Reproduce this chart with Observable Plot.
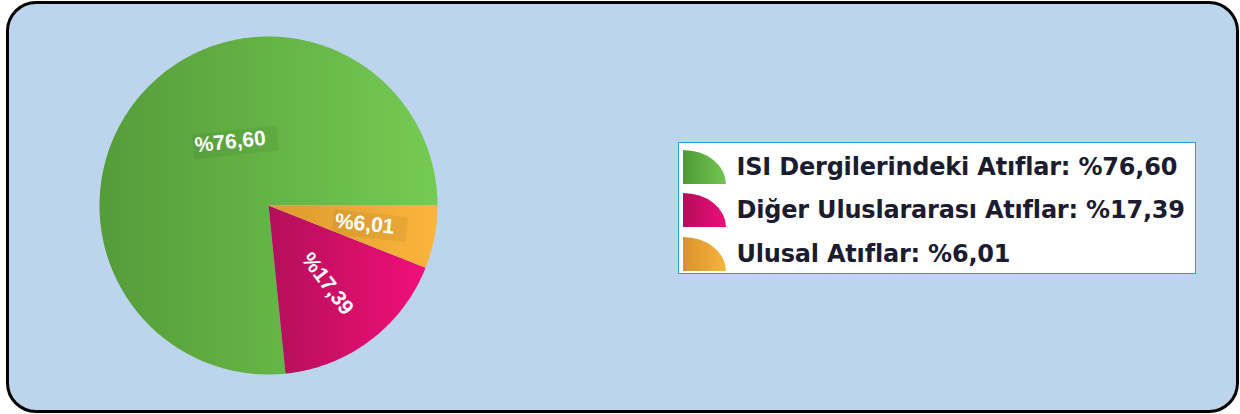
<!DOCTYPE html>
<html><head><meta charset="utf-8">
<script src="https://cdn.jsdelivr.net/npm/d3@7"></script>
<script src="https://cdn.jsdelivr.net/npm/@observablehq/plot@0.6"></script>
<style>
body{margin:0;background:#fff;}
#wrap{position:relative;width:1240px;height:414px;overflow:hidden;}
#panel{position:absolute;left:6px;top:1px;width:1233px;height:412px;box-sizing:border-box;border:3px solid #000;border-radius:30px;background:#bdd5ec;}
#chart{position:absolute;left:0;top:0;}
#legend{position:absolute;left:678px;top:142px;width:518px;height:132px;box-sizing:border-box;border:1.5px solid #2a9fd6;background:#fff;}
.row{position:absolute;left:3.5px;height:34px;display:flex;align-items:center;}
.row svg{display:block;flex:none;}
.row span{font-family:"DejaVu Sans";font-weight:bold;font-size:24px;color:#1c1c30;margin-left:10px;white-space:nowrap;letter-spacing:-0.2px;}
</style>
</head><body>
<div id="wrap"><div id="panel"></div><div id="chart"></div><div id="legend"></div></div>
<script>
// ---- data ----
const categories = ["ISI Dergilerindeki Atıflar", "Diğer Uluslararası Atıflar", "Ulusal Atıflar"];
const values = [76.60, 17.39, 6.01];
const valueLabels = ["%76,60", "%17,39", "%6,01"];

// ---- styles / layout ----
const gradients = [["#559c39", "#74cb52"], ["#b30f5a", "#f20f78"], ["#dc9a2e", "#fcb53d"]];
const swatchGradients = [["#4f9a38", "#72c650"], ["#b50c5a", "#ea107a"], ["#d8922a", "#f8b440"]];
const labelPlace = [{r: 0.44, angle: -31, rotate: -6, plate: true}, {r: 0.58, rotate: 53, plate: false}, {r: 0.58, rotate: 6, plate: true}];
const cx = 268, cy = 205, R = 169;

const arcs = d3.pie().sort(null).startAngle(2.5 * Math.PI).endAngle(0.5 * Math.PI)(values);

const slices = arcs.map((a, i) => {
  const pts = [{x: 0, y: 0}];
  const n = Math.max(8, Math.ceil(Math.abs(a.endAngle - a.startAngle) / (Math.PI / 360)));
  for (let k = 0; k <= n; k++) {
    const t = a.startAngle + (a.endAngle - a.startAngle) * k / n;
    pts.push({x: Math.sin(t), y: -Math.cos(t)});
  }
  pts.push({x: 0, y: 0});
  return pts;
});

const labels = arcs.map((a, i) => {
  const p = labelPlace[i];
  const ang = p.angle !== undefined ? p.angle * Math.PI / 180 : (a.startAngle + a.endAngle) / 2;
  return {x: p.r * Math.sin(ang), y: -p.r * Math.cos(ang), text: valueLabels[i], rotate: p.rotate, plate: p.plate};
});

const chart = Plot.plot({
  width: 1240, height: 414, margin: 0,
  style: {background: "transparent", overflow: "visible"},
  x: {domain: [-1, 1], range: [cx - R, cx + R], axis: null},
  y: {domain: [-1, 1], range: [cy - R, cy + R], axis: null},
  marks: [
    ...slices.map((pts, i) => Plot.line(pts, {x: "x", y: "y", fill: `url(#g${i})`, stroke: "none"})),
    ...labels.map(l => Plot.text([l], {x: "x", y: "y", text: "text", rotate: l.rotate, fill: "white",
      fontSize: 21, fontWeight: "bold", fontFamily: "Liberation Sans, Arial, sans-serif"}))
  ]
});

const defs = d3.select(chart).insert("defs", ":first-child");
gradients.forEach((g, i) => {
  const lg = defs.append("linearGradient").attr("id", `g${i}`).attr("x1", 0).attr("x2", 1).attr("y1", 0).attr("y2", 0);
  lg.append("stop").attr("offset", 0).attr("stop-color", g[0]);
  lg.append("stop").attr("offset", 1).attr("stop-color", g[1]);
});
document.getElementById("chart").appendChild(chart);

// subtle label plates (as in the reference)
d3.select(chart).selectAll("g[aria-label='text'] text").each(function(_, i) {
  if (!labels[i] || !labels[i].plate) return;
  const b = this.getBBox();
  d3.select(this.parentNode).insert("rect", () => this)
    .attr("transform", this.getAttribute("transform"))
    .attr("x", b.x - 2).attr("y", b.y + 1).attr("width", b.width + 14).attr("height", b.height + 2)
    .attr("fill", "#000").attr("fill-opacity", 0.05);
});

// ---- legend ----
const legend = d3.select("#legend");
const rowTops = [6.5, 50, 93.5];
categories.forEach((c, i) => {
  const row = legend.append("div").attr("class", "row").style("top", rowTops[i] + "px");
  const s = row.append("svg").attr("width", 44).attr("height", 34);
  const lg = s.append("defs").append("linearGradient").attr("id", `s${i}`);
  lg.append("stop").attr("offset", 0).attr("stop-color", swatchGradients[i][0]);
  lg.append("stop").attr("offset", 1).attr("stop-color", swatchGradients[i][1]);
  s.append("path").attr("d", "M0,34V0A43,34 0 0 1 43,34Z").attr("fill", `url(#s${i})`);
  row.append("span").text(`${c}: ${valueLabels[i]}`);
});
</script>
</body></html>
